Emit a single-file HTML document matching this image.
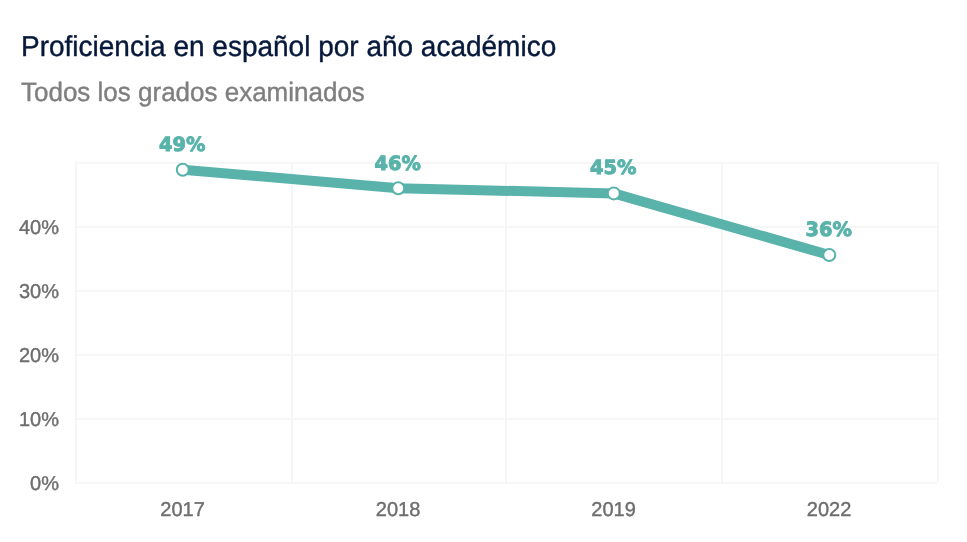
<!DOCTYPE html>
<html lang="es">
<head>
<meta charset="utf-8">
<title>Proficiencia en español por año académico</title>
<style>
  html, body { margin: 0; padding: 0; background: #ffffff; }
  body { width: 967px; height: 542px; overflow: hidden; }
  svg { display: block; }
  text { font-family: "Liberation Sans", sans-serif; text-rendering: geometricPrecision; stroke-linejoin: round; }
  .title { font-size: 28.70px; fill: #07193b; stroke: #07193b; stroke-width: 0.4; }
  .subtitle { font-size: 26.65px; fill: #7f7f7f; stroke: #7f7f7f; stroke-width: 0.4; }
  .axis { font-size: 20.00px; fill: #6e6e6e; stroke: #6e6e6e; stroke-width: 0.4; }
  .grid rect { fill: #f6f6f6; }
  .lbl { font-family: "DejaVu Sans", "Liberation Sans", sans-serif; font-weight: bold; font-size: 19.6px; fill: #59b3ab; stroke: #59b3ab; stroke-width: 1.0; }
  .pt { fill: #ffffff; stroke: #59b3ab; stroke-width: 2; }
  .ln { fill: none; stroke: #59b3ab; stroke-width: 10; stroke-linejoin: round; stroke-linecap: butt; }
</style>
</head>
<body>
<svg width="967" height="542" viewBox="0 0 967 542">
  <rect x="0" y="0" width="967" height="542" fill="#ffffff"/>

  <text class="title" transform="translate(21 56) scale(0.9756 1)">Proficiencia en español por año académico</text>
  <text class="subtitle" transform="translate(21 101) scale(0.9756 1)">Todos los grados examinados</text>

  <g class="grid">
    <rect x="75" y="162" width="864" height="2"/>
    <rect x="75" y="226" width="864" height="2"/>
    <rect x="75" y="290" width="864" height="2"/>
    <rect x="75" y="354" width="864" height="2"/>
    <rect x="75" y="418" width="864" height="2"/>
    <rect x="75" y="482" width="862" height="2"/>
    <rect x="75" y="161" width="2" height="323"/>
    <rect x="291" y="162" width="2" height="322"/>
    <rect x="505" y="162" width="2" height="322"/>
    <rect x="721" y="162" width="2" height="322"/>
    <rect x="937" y="162" width="2" height="320"/>
  </g>

  <g>
    <text class="axis" transform="translate(59 234) scale(1.0000 1)" text-anchor="end">40%</text>
    <text class="axis" transform="translate(59 298) scale(1.0000 1)" text-anchor="end">30%</text>
    <text class="axis" transform="translate(59 362) scale(1.0000 1)" text-anchor="end">20%</text>
    <text class="axis" transform="translate(59 426) scale(1.0000 1)" text-anchor="end">10%</text>
    <text class="axis" transform="translate(59 490) scale(1.0000 1)" text-anchor="end">0%</text>
  </g>
  <g>
    <text class="axis" transform="translate(182.55 516) scale(1.0000 1)" text-anchor="middle">2017</text>
    <text class="axis" transform="translate(398.05 516) scale(1.0000 1)" text-anchor="middle">2018</text>
    <text class="axis" transform="translate(613.55 516) scale(1.0000 1)" text-anchor="middle">2019</text>
    <text class="axis" transform="translate(829.05 516) scale(1.0000 1)" text-anchor="middle">2022</text>
  </g>
  <polyline class="ln" points="182.75,169.7 398.25,188.25 613.75,193.4 829.25,255"/>
  <circle class="pt" cx="182.75" cy="169.7" r="6"/>
  <circle class="pt" cx="398.25" cy="188.25" r="6"/>
  <circle class="pt" cx="613.75" cy="193.4" r="6"/>
  <circle class="pt" cx="829.25" cy="255" r="6"/>
  <g text-anchor="middle">
    <text class="lbl" x="182.25" y="150.60" textLength="46.4" lengthAdjust="spacingAndGlyphs">49%</text>
    <text class="lbl" x="397.75" y="169.85" textLength="46.4" lengthAdjust="spacingAndGlyphs">46%</text>
    <text class="lbl" x="613.25" y="174.30" textLength="46.4" lengthAdjust="spacingAndGlyphs">45%</text>
    <text class="lbl" x="828.75" y="235.90" textLength="46.4" lengthAdjust="spacingAndGlyphs">36%</text>
  </g>
</svg>
</body>
</html>
